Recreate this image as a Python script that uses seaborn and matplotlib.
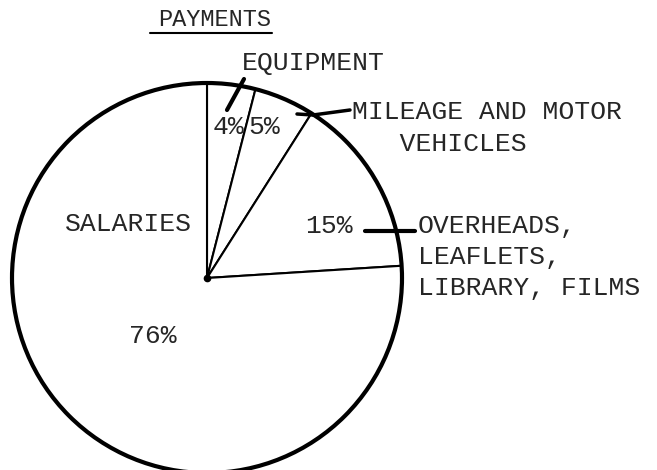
import matplotlib
matplotlib.use("Agg")
import matplotlib.pyplot as plt
import seaborn as sns

# data
categories = ["EQUIPMENT", "MILEAGE AND MOTOR\n   VEHICLES",
              "OVERHEADS,\nLEAFLETS,\nLIBRARY, FILMS", "SALARIES"]
shares = [4, 5, 15, 76]
pct_labels = ["4%", "5%", "15%", "76%"]

sns.set_theme(style="white")
plt.rcParams["font.family"] = ["Liberation Mono", "DejaVu Sans Mono"]

fig = plt.figure(figsize=(6.57, 4.70), dpi=100)
ax = fig.add_axes([0, 0, 1, 1])

# pixel-like coordinates: x right, y = -pixel row
cx, cy, r = 207, -278, 195
ax.pie(shares, center=(cx, cy), radius=r, startangle=90, counterclock=False,
       colors=["white"] * len(shares), frame=True,
       wedgeprops=dict(edgecolor="black", linewidth=1.5))
ax.add_patch(plt.Circle((cx, cy), r, fill=False, edgecolor="black", lw=3))
ax.plot(cx, cy, "o", color="black", ms=4.5)

ax.set_xlim(0, 657)
ax.set_ylim(-470, 0)
ax.set_aspect("auto")
ax.axis("off")

fs = 19
# title with underline
ax.text(158, -19, "PAYMENTS", fontsize=17, va="center", ha="left")
ax.plot([150, 272], [-33, -33], color="black", lw=1.5)

# category labels
label_pos = [(242, -63), (352, -128), (418, -257), (65, -224)]
for (x, y), lab in zip(label_pos, categories):
    ax.text(x, y, lab, fontsize=fs, va="center", ha="left", linespacing=1.38)

# percentage labels
pct_pos = [(229, -127), (264, -127), (329, -226), (153, -336)]
for (x, y), lab in zip(pct_pos, pct_labels):
    ax.text(x, y, lab, fontsize=fs, va="center", ha="center")

# leader lines
ax.plot([227, 244], [-110, -79], color="black", lw=3, solid_capstyle="round")
ax.plot([297, 313, 350], [-114, -115, -110], color="black", lw=2.5)
ax.plot([365, 415], [-231, -231], color="black", lw=3)

fig.savefig("out.png", dpi=100, facecolor="white")
